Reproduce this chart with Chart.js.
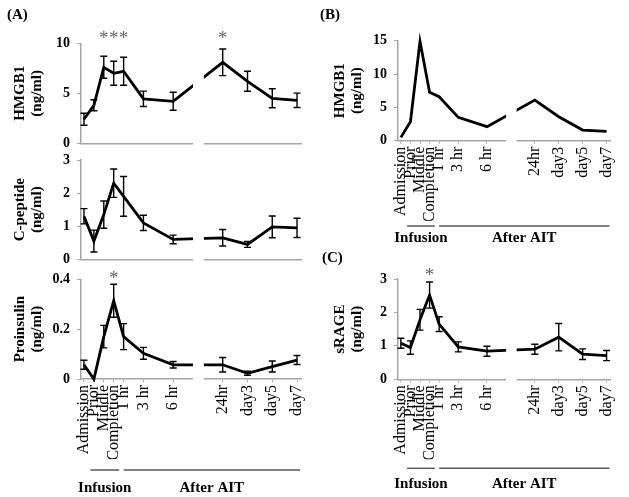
<!DOCTYPE html>
<html>
<head>
<meta charset="utf-8">
<script src="https://cdn.jsdelivr.net/npm/chart.js@4.4.1/dist/chart.umd.min.js"></script>
<style>
  body { margin: 0; background: #fff; }
  #wrap { position: relative; width: 629px; height: 497px; }
  canvas { position: absolute; left: 0; top: 0; }
  .tag { position: absolute; font: bold 15px "Liberation Serif", serif; color: #000; }
</style>
</head>
<body>
<div id="wrap">
  <canvas id="hmgb1A" width="629" height="497"></canvas>
  <canvas id="cpepA" width="629" height="497"></canvas>
  <canvas id="proinsA" width="629" height="497"></canvas>
  <canvas id="hmgb1B" width="629" height="497"></canvas>
  <canvas id="srageC" width="629" height="497"></canvas>
  <div class="tag" style="left:7px;top:6px">(A)</div>
  <div class="tag" style="left:320px;top:6px">(B)</div>
  <div class="tag" style="left:322px;top:249px">(C)</div>
</div>
<script>
// time points and their slot along the (broken) x axis
const categories = ['Admission', 'Prior', 'Middle', 'Completion', '1 hr', '3 hr', '6 hr', '24hr', 'day3', 'day5', 'day7'];
const slots = [0, 1, 2, 3, 4, 6, 9, 14, 16.5, 19, 21.5];

// (A) means and error bars
const hmgb1Mean = [2.4, 3.8, 7.6, 7.0, 7.2, 4.45, 4.2, 8.1, 6.2, 4.5, 4.3];
const hmgb1Err  = [0.6, 0.55, 1.1, 1.2, 1.4, 0.77, 0.9, 1.33, 1.0, 0.95, 0.72];
const cpepMean  = [1.3, 0.55, 1.35, 2.3, 1.9, 1.1, 0.6, 0.65, 0.45, 0.98, 0.95];
const cpepErr   = [0.23, 0.33, 0.41, 0.43, 0.6, 0.23, 0.13, 0.25, 0.09, 0.33, 0.29];
const proinsMean = [0.057, 0.0, 0.17, 0.314, 0.17, 0.103, 0.057, 0.057, 0.023, 0.05, 0.076];
const proinsErr  = [0.018, 0, 0.045, 0.066, 0.052, 0.024, 0.013, 0.029, 0.008, 0.022, 0.018];

// (B) single series, (C) sRAGE
const hmgb1Single = [0.5, 2.85, 14.9, 7.25, 6.6, 3.5, 2.1, 6.1, 3.6, 1.6, 1.4];
const srageMean = [1.08, 0.95, 1.78, 2.52, 1.65, 0.97, 0.84, 0.9, 1.26, 0.75, 0.71];
const srageErr  = [0.15, 0.2, 0.31, 0.39, 0.22, 0.15, 0.15, 0.15, 0.41, 0.16, 0.15];

const hmgb1Stars = [2, 3, 4, 7];
const proinsStars = [3];
const srageStars = [3];

const groups = [
  { label: 'Infusion', from: 0.65, to: 3.55 },
  { label: 'After AIT', from: 4.0, to: 21.8 }
];
const axisBreak = [11.0, 12.1];

const FONT = '"Liberation Serif", serif';
const GRAY = '#a6a6a6';

const extras = {
  id: 'extras',
  afterDatasetsDraw(chart, args, opts) {
    if (!opts.err) return;
    const { ctx, scales: { x, y } } = chart;
    ctx.save();
    ctx.strokeStyle = '#000';
    ctx.lineWidth = 1.4;
    chart.data.datasets[0].data.forEach((p, i) => {
      const e = opts.err[i];
      if (!e) return;
      const px = x.getPixelForValue(p.x);
      const top = y.getPixelForValue(p.y + e);
      const bot = y.getPixelForValue(p.y - e);
      ctx.beginPath();
      ctx.moveTo(px, top); ctx.lineTo(px, bot);
      ctx.moveTo(px - 3.5, top); ctx.lineTo(px + 3.5, top);
      ctx.moveTo(px - 3.5, bot); ctx.lineTo(px + 3.5, bot);
      ctx.stroke();
    });
    ctx.restore();
  },
  afterDraw(chart, args, opts) {
    const { ctx, chartArea, scales: { x } } = chart;
    ctx.save();
    // axis break
    const b0 = x.getPixelForValue(axisBreak[0]);
    const b1 = x.getPixelForValue(axisBreak[1]);
    ctx.fillStyle = '#fff';
    ctx.fillRect(b0, chartArea.top - 3, b1 - b0, chartArea.bottom - chartArea.top + 6);

    if (opts.stars) {
      ctx.fillStyle = '#666';
      ctx.font = '19px ' + FONT;
      ctx.textAlign = 'center';
      ctx.textBaseline = 'middle';
      opts.stars.forEach(i => {
        ctx.fillText('*', x.getPixelForValue(slots[i]), chartArea.top - opts.starLift);
      });
    }

    if (opts.groups) {
      const yb = chartArea.bottom + opts.bracketGap;
      const yt = chartArea.bottom + opts.labelGap;
      ctx.strokeStyle = '#595959';
      ctx.lineWidth = 1.5;
      ctx.fillStyle = '#000';
      ctx.font = 'bold 15px ' + FONT;
      ctx.textAlign = 'center';
      ctx.textBaseline = 'middle';
      groups.forEach(g => {
        const a = x.getPixelForValue(g.from);
        const b = x.getPixelForValue(g.to);
        ctx.beginPath(); ctx.moveTo(a, yb); ctx.lineTo(b, yb); ctx.stroke();
        ctx.fillText(g.label, (a + b) / 2, yt);
      });
    }
    ctx.restore();
  }
};

function xScale(showLabels) {
  return {
    type: 'linear', min: -0.3, max: 21.9,
    afterBuildTicks: s => { s.ticks = slots.map(v => ({ value: v })); },
    afterFit: s => { s.height = showLabels ? 80 : 10; },
    border: { color: GRAY, width: 1.5 },
    grid: { drawOnChartArea: false, drawTicks: showLabels, tickLength: 3, color: GRAY },
    ticks: {
      display: showLabels, autoSkip: false, minRotation: 90, maxRotation: 90, padding: 3,
      color: '#000', font: { family: FONT, size: 16 },
      callback: (v, i) => categories[i]
    }
  };
}

function yScale(max, step, title, width) {
  return {
    min: 0, max,
    afterFit: s => { s.width = width; },
    border: { color: GRAY, width: 1.5 },
    grid: { drawOnChartArea: false, tickLength: 4, color: GRAY },
    ticks: { stepSize: step, padding: 7, color: '#000', font: { family: FONT, size: 14, weight: 'bold' } },
    title: {
      display: true, text: title, color: '#000', padding: { top: 0, bottom: 0 },
      font: { family: FONT, size: 15, weight: 'bold', lineHeight: 1.15 }
    }
  };
}

function makeChart(id, values, pad, x, y, extraOpts) {
  return new Chart(document.getElementById(id), {
    type: 'line',
    data: {
      datasets: [{
        data: values.map((v, i) => ({ x: slots[i], y: v })),
        borderColor: '#000',
        borderWidth: 2.8,
        pointRadius: 0,
        tension: 0,
        fill: false,
        clip: false
      }]
    },
    options: {
      responsive: false,
      animation: false,
      devicePixelRatio: 1,
      events: [],
      layout: { padding: pad },
      plugins: { legend: { display: false }, tooltip: { enabled: false }, extras: extraOpts },
      scales: { x, y }
    },
    plugins: [extras]
  });
}

makeChart('hmgb1A', hmgb1Mean,
  { left: 11.4, right: 328, top: 43.3, bottom: 343.7 },
  xScale(false), yScale(10, 5, ['HMGB1', '(ng/ml)'], 69.6),
  { err: hmgb1Err, stars: hmgb1Stars, starLift: 4 });

makeChart('cpepA', cpepMean,
  { left: 11.4, right: 328, top: 160, bottom: 227.7 },
  xScale(false), yScale(3, 1, ['C-peptide', '(ng/ml)'], 69.6),
  { err: cpepErr });

makeChart('proinsA', proinsMean,
  { left: 11.4, right: 328, top: 279.3, bottom: 38 },
  xScale(true), yScale(0.4, 0.2, ['Proinsulin', '(ng/ml)'], 69.6),
  { err: proinsErr, stars: proinsStars, starLift: 0, groups: true, bracketGap: 91, labelGap: 109 });

makeChart('hmgb1B', hmgb1Single,
  { left: 331.4, right: 12, top: 40.7, bottom: 276.3 },
  xScale(true), yScale(15, 5, ['HMGB1', '(ng/ml)'], 66.6),
  { groups: true, bracketGap: 85.3, labelGap: 97.6 });

makeChart('srageC', srageMean,
  { left: 331.4, right: 12, top: 279, bottom: 37.7 },
  xScale(true), yScale(3, 1, ['sRAGE', '(ng/ml)'], 66.6),
  { err: srageErr, stars: srageStars, starLift: 3, groups: true, bracketGap: 89, labelGap: 105 });
</script>
</body>
</html>
